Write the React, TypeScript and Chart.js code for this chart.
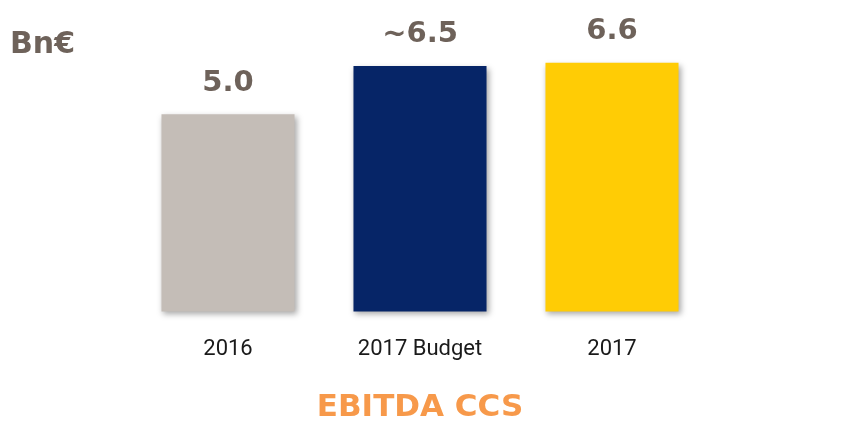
import React, { useEffect, useRef } from "react";
import { Chart, registerables } from "chart.js";

Chart.register(...registerables);

const categories = ["2016", "2017 Budget", "2017"];
const values = [5.0, 6.5, 6.6];
const valueLabels = ["5.0", "~6.5", "6.6"];
const barColors = ["#C4BDB7", "#062567", "#FFCC05"];
const unitLabel = "Bn€";
const chartTitle = "EBITDA CCS";
const axisMin = -1.14;
const axisMax = 7.93;

const shadowPlugin = {
  id: "barShadow",
  beforeDatasetsDraw(chart: any) {
    const ctx = chart.ctx;
    ctx.save();
    ctx.shadowColor = "rgba(0,0,0,0.35)";
    ctx.shadowBlur = 6;
    ctx.shadowOffsetX = 2;
    ctx.shadowOffsetY = 3;
  },
  afterDatasetsDraw(chart: any) {
    chart.ctx.restore();
  },
};

const labelPlugin = {
  id: "valueLabels",
  afterDraw(chart: any) {
    const ctx = chart.ctx;
    const meta = chart.getDatasetMeta(0);
    ctx.save();
    ctx.fillStyle = "#6E625A";
    ctx.font = "bold 29px 'DejaVu Sans'";
    ctx.textAlign = "center";
    ctx.textBaseline = "middle";
    meta.data.forEach((bar: any, i: number) => {
      ctx.fillText(valueLabels[i], bar.x, bar.y - 31);
    });
    ctx.font = "bold 30px 'DejaVu Sans'";
    ctx.textAlign = "left";
    ctx.fillText(unitLabel, 10, 45);
    ctx.restore();
  },
};

export default function App() {
  const ref = useRef<HTMLCanvasElement | null>(null);
  useEffect(() => {
    document.body.style.margin = "0";
    const chart = new Chart(ref.current as HTMLCanvasElement, {
      type: "bar",
      data: {
        labels: categories,
        datasets: [
          {
            data: values,
            base: axisMin,
            clip: false,
            backgroundColor: barColors,
            borderWidth: 0,
            categoryPercentage: 1,
            barPercentage: 0.693,
          },
        ],
      },
      options: {
        animation: false,
        responsive: false,
        layout: { padding: { left: 132, right: 138, top: 20, bottom: 0 } },
        plugins: {
          legend: { display: false },
          tooltip: { enabled: false },
          title: {
            display: true,
            text: chartTitle,
            position: "bottom",
            color: "#F7994A",
            font: { family: "'DejaVu Sans'", size: 31, weight: "bold", lineHeight: 1.2 },
            padding: { top: 2, bottom: 6 },
          },
        },
        scales: {
          x: {
            grid: { display: false, drawTicks: false },
            border: { display: false },
            ticks: {
              color: "#1A1A1A",
              font: { family: "Roboto", size: 22, lineHeight: 1.2 },
              padding: 25,
            },
          },
          y: {
            display: false,
            min: axisMin,
            max: axisMax,
          },
        },
      },
      plugins: [shadowPlugin, labelPlugin],
    });
    return () => chart.destroy();
  }, []);
  return <canvas ref={ref} width={846} height={433} style={{ display: "block" }} />;
}
